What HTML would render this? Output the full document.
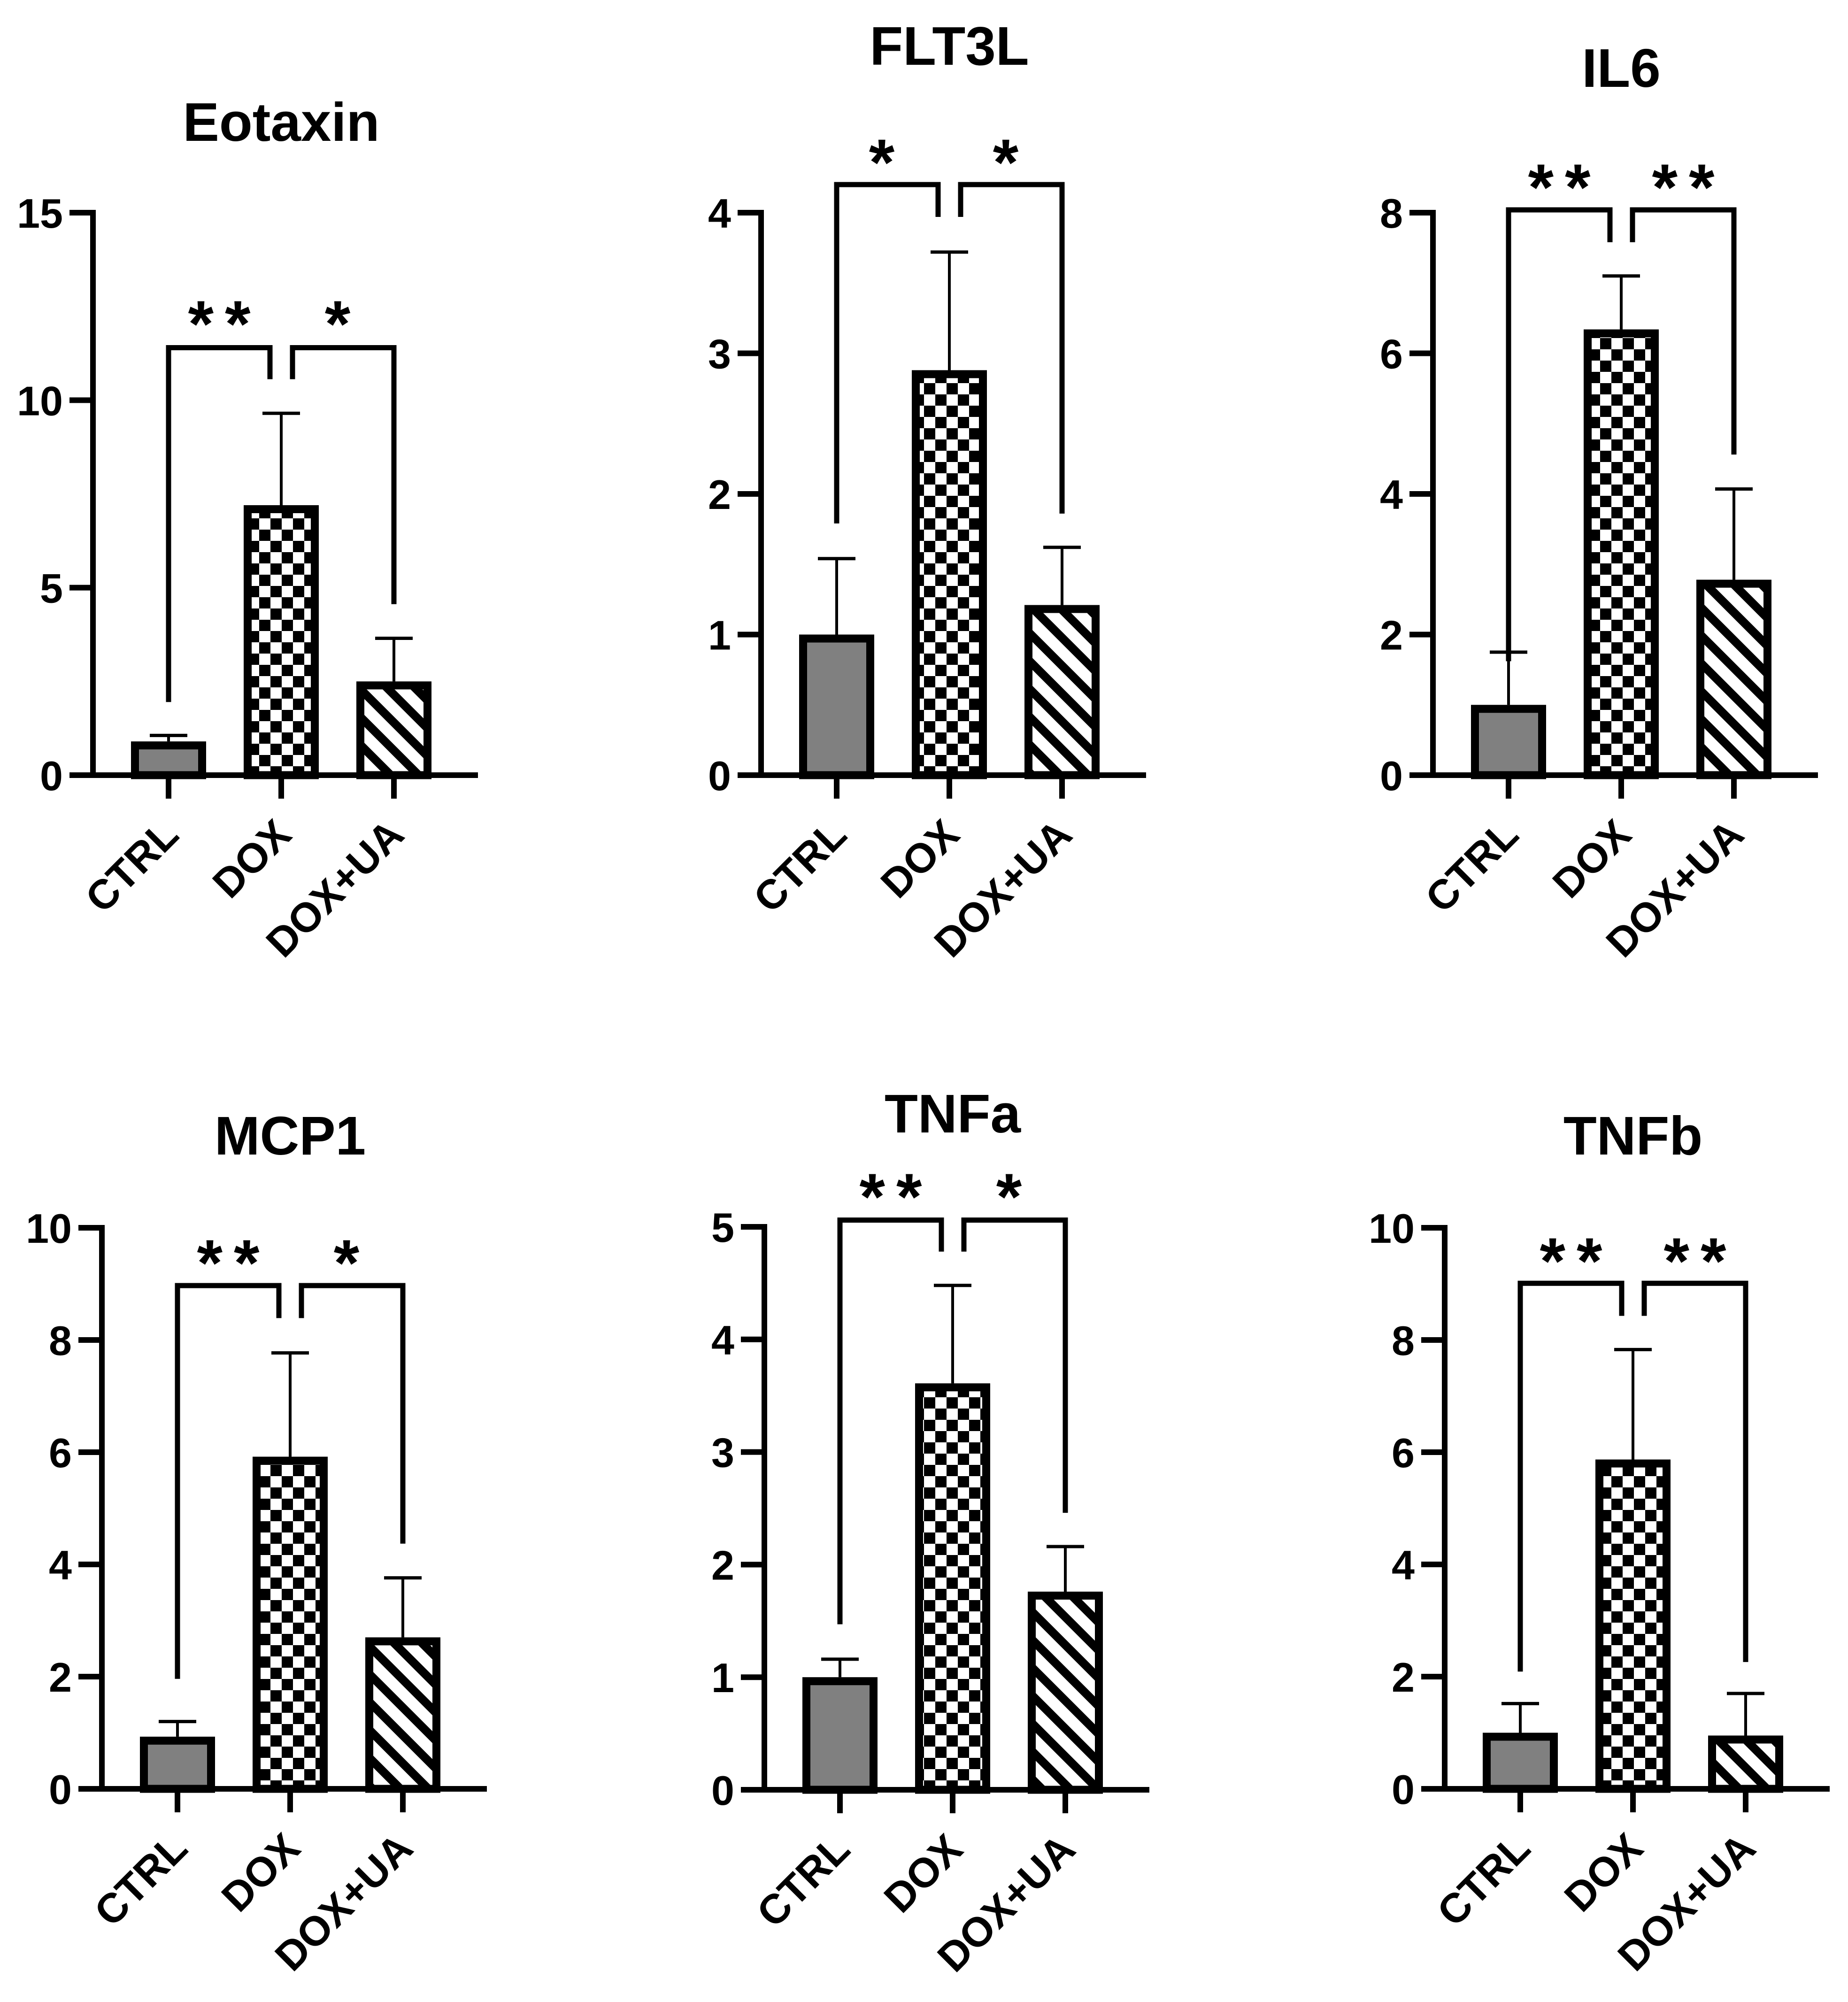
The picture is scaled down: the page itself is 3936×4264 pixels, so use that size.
<!DOCTYPE html>
<html><head><meta charset="utf-8"><style>
html,body{margin:0;padding:0;background:#fff;}
svg{display:block;}
text{font-family:"Liberation Sans",Arial,sans-serif;font-weight:bold;fill:#000;}
</style></head><body>
<svg id="fig" width="3936" height="4264" viewBox="0 0 3936 4264" xmlns="http://www.w3.org/2000/svg">
<defs>
<pattern id="checker" patternUnits="userSpaceOnUse" width="48" height="48">
<rect width="48" height="48" fill="#fff"/>
<rect x="0" y="0" width="24" height="24" fill="#000"/>
<rect x="24" y="24" width="24" height="24" fill="#000"/>
</pattern>
<pattern id="hatch" patternUnits="userSpaceOnUse" width="42" height="42" patternTransform="rotate(-45)">
<rect width="42" height="42" fill="#fff"/>
<rect x="0" y="0" width="18" height="42" fill="#000"/>
</pattern>
</defs>
</svg>
<script>
const categories = ["CTRL", "DOX", "DOX+UA"];
const panelTitles = ["Eotaxin", "FLT3L", "IL6", "MCP1", "TNFa", "TNFb"];
const eotaxinMeans = [0.9, 7.2, 2.5];
const eotaxinErr = [1.06, 9.65, 3.65];
const flt3lMeans = [1.0, 2.88, 1.21];
const flt3lErr = [1.54, 3.72, 1.62];
const il6Means = [1.0, 6.34, 2.78];
const il6Err = [1.75, 7.1, 4.07];
const mcp1Means = [0.93, 5.92, 2.7];
const mcp1Err = [1.2, 7.77, 3.76];
const tnfaMeans = [1.0, 3.61, 1.76];
const tnfaErr = [1.16, 4.48, 2.16];
const tnfbMeans = [1.0, 5.87, 0.95];
const tnfbErr = [1.52, 7.83, 1.7];
const axisMax = [15, 4, 8, 10, 5, 10];
const tickStep = [5, 1, 2, 2, 1, 2];
// bracket levels in data units: [top, inner ends, left end, right end]
const eotaxinBracket = [11.4, 10.56, 1.95, 4.56];
const flt3lBracket = [4.2, 3.97, 1.79, 1.86];
const il6Bracket = [8.04, 7.58, 1.62, 4.56];
const mcp1Bracket = [8.97, 8.39, 1.96, 4.37];
const tnfaBracket = [5.06, 4.78, 1.47, 2.46];
const tnfbBracket = [9.01, 8.43, 2.09, 2.26];
const eotaxinStars = ["**", "*"];
const flt3lStars = ["*", "*"];
const il6Stars = ["**", "**"];
const mcp1Stars = ["**", "*"];
const tnfaStars = ["**", "*"];
const tnfbStars = ["**", "**"];

const means = [eotaxinMeans, flt3lMeans, il6Means, mcp1Means, tnfaMeans, tnfbMeans];
const errs = [eotaxinErr, flt3lErr, il6Err, mcp1Err, tnfaErr, tnfbErr];
const brackets = [eotaxinBracket, flt3lBracket, il6Bracket, mcp1Bracket, tnfaBracket, tnfbBracket];
const stars = [eotaxinStars, flt3lStars, il6Stars, mcp1Stars, tnfaStars, tnfbStars];

const layout = [
  {ax:198, y0:1651, yTop:453, titleY:300, starY:665},
  {ax:1621, y0:1651, yTop:453, titleY:138, starY:321},
  {ax:3052, y0:1651, yTop:453, titleY:185, starY:374},
  {ax:217, y0:3810, yTop:2615, titleY:2459, starY:2665},
  {ax:1628, y0:3812, yTop:2613, titleY:2412, starY:2524},
  {ax:3077, y0:3810, yTop:2615, titleY:2459, starY:2661}
];
const fills = ["#808080", "url(#checker)", "url(#hatch)"];
const NS = "http://www.w3.org/2000/svg";
const svg = document.getElementById("fig");

function mk(tag, attrs, parent){
  const e = document.createElementNS(NS, tag);
  for (const k in attrs) e.setAttribute(k, attrs[k]);
  parent.appendChild(e);
  return e;
}

for (let p = 0; p < 6; p++){
  const L = layout[p];
  const g = mk("g", {}, svg);
  
  
  const y = v => L.y0 - (v / axisMax[p]) * (L.y0 - L.yTop);
  const xc = i => L.ax + 161 + i * 240;

  const t = mk("text", {x: xc(1), y: L.titleY, "font-size": 116, "text-anchor": "middle"}, g);
  t.textContent = panelTitles[p];
  
  

  for (let i = 0; i < 3; i++){
    const top = y(means[p][i]);
    const r = mk("rect", {x: xc(i) - 80 + 8.5, y: top + 8.5, width: 143, height: Math.max(0, L.y0 - top - 8.5), fill: fills[i], stroke: "#000", "stroke-width": 17}, g);
    
    
    const ey = y(errs[p][i]);
    const el = mk("line", {x1: xc(i), x2: xc(i), y1: ey, y2: top, stroke: "#000", "stroke-width": 6}, g);
    
    
    const ec = mk("line", {x1: xc(i) - 40, x2: xc(i) + 40, y1: ey, y2: ey, stroke: "#000", "stroke-width": 7}, g);
    
    
  }

  const ya = mk("line", {x1: L.ax, x2: L.ax, y1: L.yTop - 6, y2: L.y0 + 6, stroke: "#000", "stroke-width": 12}, g);
  
  
  for (let v = 0; v <= axisMax[p] + 1e-9; v += tickStep[p]){
    const ty = y(v);
    const tk = mk("line", {x1: L.ax - 50, x2: L.ax, y1: ty, y2: ty, stroke: "#000", "stroke-width": 12}, g);
    
    
    const tl = mk("text", {x: L.ax - 64, y: ty + 32, "font-size": 88, "text-anchor": "end"}, g);
    tl.textContent = String(v);
    
    
  }
  const xa = mk("line", {x1: L.ax - 6, x2: L.ax + 820, y1: L.y0, y2: L.y0, stroke: "#000", "stroke-width": 12}, g);
  
  
  for (let i = 0; i < 3; i++){
    const xt = mk("line", {x1: xc(i), x2: xc(i), y1: L.y0, y2: L.y0 + 50, stroke: "#000", "stroke-width": 12}, g);
    
    
    const lx = xc(i) + 26, ly = L.y0 + 132;
    const xl = mk("text", {x: lx, y: ly, "font-size": 88, "text-anchor": "end", transform: "rotate(-45 " + lx + " " + ly + ")"}, g);
    xl.textContent = categories[i];
    
    
  }

  const b = brackets[p];
  const topY = y(b[0]), innerY = y(b[1]);
  const lp = mk("polyline", {points: [xc(0), y(b[2]), xc(0), topY, xc(1) - 24, topY, xc(1) - 24, innerY].join(" "), fill: "none", stroke: "#000", "stroke-width": 11}, g);
  
  
  const rp = mk("polyline", {points: [xc(1) + 24, innerY, xc(1) + 24, topY, xc(2), topY, xc(2), y(b[3])].join(" "), fill: "none", stroke: "#000", "stroke-width": 11}, g);
  
  
  const sx = [(xc(0) + xc(1) - 24) / 2, (xc(1) + 24 + xc(2)) / 2];
  for (let k = 0; k < 2; k++){
    const st = mk("text", {x: sx[k] + (stars[p][k].length > 1 ? 12 : 0), y: L.starY + 73, "font-size": 140, "text-anchor": "middle", "letter-spacing": 24}, g);
    st.textContent = stars[p][k];
    
    
  }
}
</script>
</body></html>
